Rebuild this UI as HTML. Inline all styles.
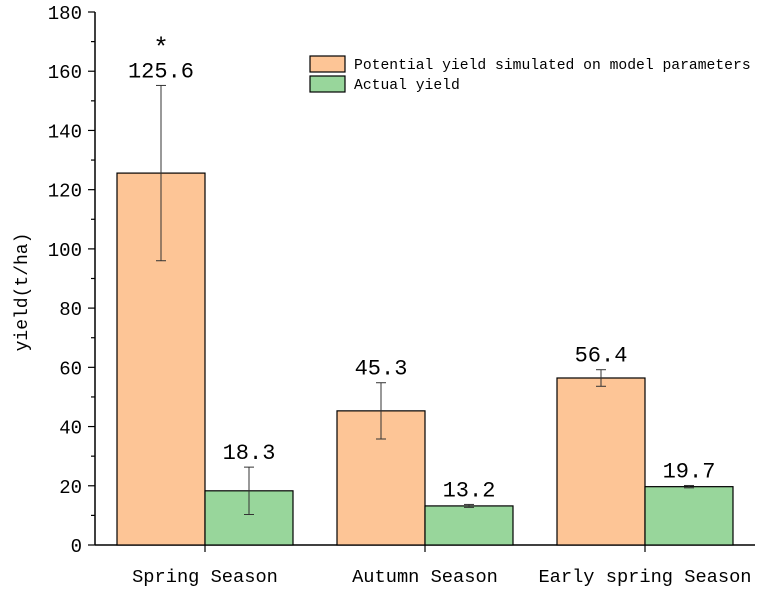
<!DOCTYPE html>
<html><head><meta charset="utf-8"><style>
body{margin:0;background:#fff}
text{font-family:"Liberation Mono","Noto Sans CJK SC",monospace;fill:#000}
</style></head><body>
<svg id="chart" width="760" height="589" xmlns="http://www.w3.org/2000/svg"></svg>
<script>
const categories=["Spring Season","Autumn Season","Early spring Season"];
const potential=[125.6,45.3,56.4];
const potentialErr=[29.6,9.5,2.8];
const actual=[18.3,13.2,19.7];
const actualErr=[8,0.5,0.4];
const yTicks=[0,20,40,60,80,100,120,140,160,180];
const legendLabels=["Potential yield simulated on model parameters","Actual yield"];

const svg=document.getElementById('chart');
const NS="http://www.w3.org/2000/svg";
const x0=95,x1=755,yBase=545,yTop=12,yMax=180;
const y=v=>yBase-(v/yMax)*(yBase-yTop);
const cx=i=>205+i*220;
const bw=88;
function mk(tag,attrs,parent){const e=document.createElementNS(NS,tag);for(const k in attrs)e.setAttribute(k,attrs[k]);(parent||svg).appendChild(e);return e;}

// axes
let ax=mk('line',{x1:x0,y1:yBase,x2:x1,y2:yBase,stroke:'#000','stroke-width':1.5});


ax=mk('line',{x1:x0,y1:yBase,x2:x0,y2:yTop,stroke:'#000','stroke-width':1.5});


for(let v=0;v<=yMax;v+=10){
  mk('line',{x1:x0,y1:y(v),x2:x0-(v%20===0?7:4),y2:y(v),stroke:'#000','stroke-width':1.2});
}
yTicks.forEach(v=>{
  const t=mk('text',{x:82,y:y(v)+7,'text-anchor':'end','font-size':19});
  t.textContent=v;
  
  
});
const yt=mk('text',{x:0,y:0,'text-anchor':'middle','font-size':18,transform:'translate(27,292) rotate(-90)'});
yt.textContent='yield(t/ha)';



function errBar(xc,v,e){
  mk('line',{x1:xc,y1:y(v+e),x2:xc,y2:y(v-e),stroke:'#333','stroke-width':1});
  mk('line',{x1:xc-5,y1:y(v+e),x2:xc+5,y2:y(v+e),stroke:'#333','stroke-width':1});
  mk('line',{x1:xc-5,y1:y(v-e),x2:xc+5,y2:y(v-e),stroke:'#333','stroke-width':1});
}
categories.forEach((c,i)=>{
  const c0=cx(i);
  mk('line',{x1:c0,y1:yBase,x2:c0,y2:yBase+7,stroke:'#000','stroke-width':1.2});
  const xl=mk('text',{x:c0,y:582,'text-anchor':'middle','font-size':18.7});
  xl.textContent=c;
  
  
  const b1=mk('rect',{x:c0-bw,y:y(potential[i]),width:bw,height:yBase-y(potential[i]),fill:'#fdc596',stroke:'#000','stroke-width':1.2});
  
  
  const b2=mk('rect',{x:c0,y:y(actual[i]),width:bw,height:yBase-y(actual[i]),fill:'#98d69b',stroke:'#000','stroke-width':1.2});
  
  
  errBar(c0-bw/2,potential[i],potentialErr[i]);
  errBar(c0+bw/2,actual[i],actualErr[i]);
  const l1=mk('text',{x:c0-bw/2,y:y(potential[i]+potentialErr[i])-8,'text-anchor':'middle','font-size':22});
  l1.textContent=potential[i].toFixed(1);
  
  
  const l2=mk('text',{x:c0+bw/2,y:y(actual[i]+actualErr[i])-8,'text-anchor':'middle','font-size':22});
  l2.textContent=actual[i].toFixed(1);
  
  
});
const star=mk('text',{x:cx(0)-bw/2,y:y(potential[0]+potentialErr[0])-30,'text-anchor':'middle','font-size':26});
star.textContent='*';



const colors=['#fdc596','#98d69b'];
legendLabels.forEach((l,i)=>{
  const r=mk('rect',{x:310,y:56+i*20,width:35,height:16,fill:colors[i],stroke:'#000','stroke-width':1.2});
  
  
  const t=mk('text',{x:354,y:69+i*20,'font-size':14.7});
  t.textContent=l;
  
  
});
</script>
</body></html>
